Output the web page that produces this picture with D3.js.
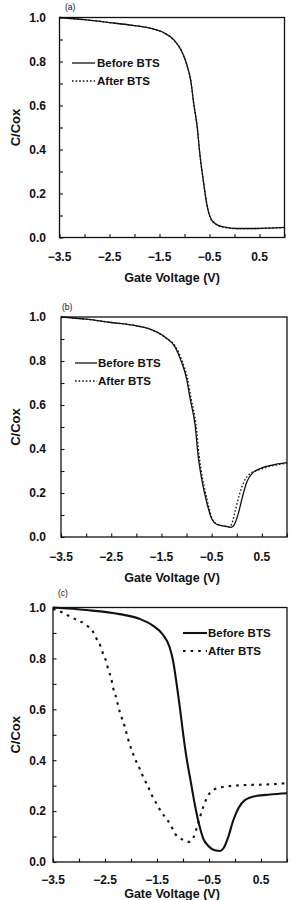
<!DOCTYPE html>
<html><head><meta charset="utf-8">
<script src="https://cdn.jsdelivr.net/npm/d3@7"></script>
<style>
html,body{margin:0;padding:0;background:#fff;}
svg{display:block;}
text{font-family:"Liberation Sans",Arial,sans-serif;fill:#111;}
</style></head>
<body>
<script>
// ---- data (Gate Voltage V, C/Cox) ----
const xTicks = [-3.5, -2.5, -1.5, -0.5, 0.5];
const yTicks = [0.0, 0.2, 0.4, 0.6, 0.8, 1.0];
const seriesNames = ["Before BTS", "After BTS"];
const panelNames = ["(a)", "(b)", "(c)"];

const aBefore = [[-3.5,1.0],[-3.0,0.99],[-2.5,0.977],[-2.0,0.963],[-1.69,0.952],[-1.42,0.932],[-1.22,0.90],[-1.05,0.844],[-0.95,0.783],[-0.87,0.707],[-0.82,0.616],[-0.75,0.51],[-0.69,0.374],[-0.62,0.253],[-0.55,0.147],[-0.49,0.094],[-0.39,0.064],[-0.22,0.048],[0.05,0.041],[0.45,0.041],[0.71,0.043],[1.0,0.046]];
const aAfter  = [[-3.5,1.0],[-3.0,0.99],[-2.5,0.977],[-2.0,0.963],[-1.69,0.952],[-1.42,0.931],[-1.22,0.899],[-1.05,0.843],[-0.95,0.782],[-0.87,0.706],[-0.82,0.615],[-0.75,0.509],[-0.69,0.373],[-0.62,0.252],[-0.55,0.146],[-0.49,0.093],[-0.39,0.063],[-0.22,0.047],[0.05,0.040],[0.45,0.041],[0.71,0.043],[1.0,0.045]];

const bBefore = [[-3.5,1.0],[-3.0,0.99],[-2.5,0.975],[-2.0,0.96],[-1.77,0.948],[-1.43,0.909],[-1.23,0.864],[-1.10,0.795],[-1.0,0.72],[-0.93,0.63],[-0.83,0.508],[-0.77,0.371],[-0.70,0.265],[-0.6,0.159],[-0.5,0.083],[-0.4,0.058],[-0.23,0.049],[-0.11,0.044],[-0.05,0.056],[0.03,0.106],[0.11,0.18],[0.2,0.25],[0.3,0.288],[0.5,0.314],[0.77,0.33],[1.0,0.338]];
const bAfter  = [[-3.5,1.0],[-3.0,0.99],[-2.5,0.975],[-2.0,0.96],[-1.77,0.948],[-1.43,0.907],[-1.21,0.862],[-1.08,0.795],[-0.98,0.72],[-0.91,0.63],[-0.81,0.508],[-0.75,0.371],[-0.68,0.265],[-0.58,0.159],[-0.49,0.083],[-0.39,0.058],[-0.23,0.049],[-0.15,0.045],[-0.1,0.06],[-0.03,0.12],[0.05,0.19],[0.14,0.25],[0.25,0.285],[0.5,0.31],[0.77,0.327],[1.0,0.335]];

const cBefore = [[-3.5,1.0],[-2.86,0.99],[-2.22,0.974],[-1.83,0.955],[-1.58,0.929],[-1.385,0.893],[-1.26,0.846],[-1.19,0.79],[-1.12,0.696],[-1.058,0.604],[-0.994,0.499],[-0.93,0.407],[-0.85,0.315],[-0.77,0.223],[-0.686,0.144],[-0.61,0.092],[-0.513,0.063],[-0.385,0.046],[-0.288,0.043],[-0.225,0.053],[-0.13,0.098],[-0.033,0.164],[0.063,0.21],[0.19,0.243],[0.42,0.26],[0.67,0.265],[1.0,0.27]];
const cAfter  = [[-3.5,0.995],[-3.34,0.982],[-3.15,0.962],[-2.87,0.932],[-2.74,0.908],[-2.67,0.88],[-2.59,0.85],[-2.54,0.82],[-2.475,0.787],[-2.43,0.75],[-2.38,0.722],[-2.35,0.689],[-2.30,0.656],[-2.22,0.593],[-2.17,0.562],[-2.12,0.531],[-2.06,0.486],[-1.98,0.436],[-1.92,0.404],[-1.85,0.374],[-1.78,0.341],[-1.64,0.282],[-1.58,0.254],[-1.49,0.223],[-1.42,0.197],[-1.32,0.171],[-1.225,0.14],[-1.154,0.112],[-1.006,0.088],[-0.88,0.079],[-0.80,0.096],[-0.74,0.131],[-0.673,0.177],[-0.61,0.217],[-0.53,0.256],[-0.43,0.282],[-0.225,0.295],[0.16,0.302],[0.67,0.305],[1.0,0.31]];

// ---- layout ----
const panels = [
  {name: panelNames[0], before: aBefore, after: aAfter, x0: 59.5, x1: 284.5, yTop: 17.5, yBot: 237.5,
   lw: 1.3, dash: "1.6,2", nameX: 65, nameY: 10, tickLabY: 261, axLabY: 282,
   leg: {x0: 72, x1: 95, tx: 97, y1: 63, y2: 81}},
  {name: panelNames[1], before: bBefore, after: bAfter, x0: 61, x1: 287, yTop: 317, yBot: 537,
   lw: 1.3, dash: "1.6,2", nameX: 62, nameY: 310, tickLabY: 561, axLabY: 582,
   leg: {x0: 75, x1: 97, tx: 98, y1: 363, y2: 381}},
  {name: panelNames[2], before: cBefore, after: cAfter, x0: 53, x1: 287, yTop: 607.5, yBot: 862,
   lw: 2.1, dash: "2.6,5", nameX: 58, nameY: 596, tickLabY: 884, axLabY: 898,
   leg: {x0: 183, x1: 207, tx: 208, y1: 633, y2: 651}}
];

const svg = d3.select("body").append("svg").attr("width", 291).attr("height", 900);
const ink = "#111";

panels.forEach(p => {
  const x = d3.scaleLinear().domain([-3.5, 1.0]).range([p.x0, p.x1]);
  const y = d3.scaleLinear().domain([0, 1]).range([p.yBot, p.yTop]);
  const g = svg.append("g");

  // curves
  const line = d3.line().x(d => x(d[0])).y(d => y(d[1])).curve(d3.curveMonotoneX);
  g.append("path").datum(p.after).attr("d", line).attr("fill", "none")
    .attr("stroke", ink).attr("stroke-width", p.lw).attr("stroke-dasharray", p.dash);
  g.append("path").datum(p.before).attr("d", line).attr("fill", "none")
    .attr("stroke", ink).attr("stroke-width", p.lw);

  // frame
  g.append("rect").attr("x", p.x0).attr("y", p.yTop).attr("width", p.x1 - p.x0).attr("height", p.yBot - p.yTop)
    .attr("fill", "none").attr("stroke", ink).attr("stroke-width", 1.3);

  // inward ticks
  const xAx = d3.axisTop(x).tickValues(d3.range(-3.5, 1.01, 0.5)).tickSize(3.5).tickFormat("");
  const gx = g.append("g").attr("transform", `translate(0,${p.yBot})`).call(xAx);
  gx.select(".domain").remove();
  gx.selectAll("line").attr("stroke", ink).attr("stroke-width", 1.1);
  const yAx = d3.axisRight(y).tickValues(d3.range(0, 1.001, 0.1)).tickSize(3.5).tickFormat("");
  const gy = g.append("g").attr("transform", `translate(${p.x0},0)`).call(yAx);
  gy.select(".domain").remove();
  gy.selectAll("line").attr("stroke", ink).attr("stroke-width", 1.1);

  // tick labels
  g.selectAll(".xl").data(xTicks).enter().append("text")
    .attr("x", d => x(d)).attr("y", p.tickLabY).attr("text-anchor", "middle")
    .attr("font-size", 12).attr("font-weight", "bold").text(d => d3.format(".1f")(d));
  g.selectAll(".yl").data(yTicks).enter().append("text")
    .attr("x", 46).attr("y", d => y(d) + 4.3).attr("text-anchor", "end")
    .attr("font-size", 12).attr("font-weight", "bold").text(d => d3.format(".1f")(d));

  // axis titles
  g.append("text").attr("x", 172).attr("y", p.axLabY).attr("text-anchor", "middle")
    .attr("font-size", 12.5).attr("font-weight", "bold").text("Gate Voltage (V)");
  g.append("text").attr("transform", `translate(19.5,${(p.yTop + p.yBot) / 2}) rotate(-90)`)
    .attr("text-anchor", "middle").attr("font-size", 13).attr("font-weight", "bold").text("C/Cox");

  // panel label
  g.append("text").attr("x", p.nameX).attr("y", p.nameY).attr("font-size", 8.5).text(p.name);

  // legend
  const L = p.leg;
  g.append("line").attr("x1", L.x0).attr("x2", L.x1).attr("y1", L.y1).attr("y2", L.y1)
    .attr("stroke", ink).attr("stroke-width", p.lw);
  g.append("line").attr("x1", L.x0).attr("x2", L.x1).attr("y1", L.y2).attr("y2", L.y2)
    .attr("stroke", ink).attr("stroke-width", p.lw).attr("stroke-dasharray", p.dash);
  g.append("text").attr("x", L.tx).attr("y", L.y1 + 4.2).attr("font-size", 11.5).attr("font-weight", "bold").text(seriesNames[0]);
  g.append("text").attr("x", L.tx).attr("y", L.y2 + 4.2).attr("font-size", 11.5).attr("font-weight", "bold").text(seriesNames[1]);
});
</script>
</body></html>
